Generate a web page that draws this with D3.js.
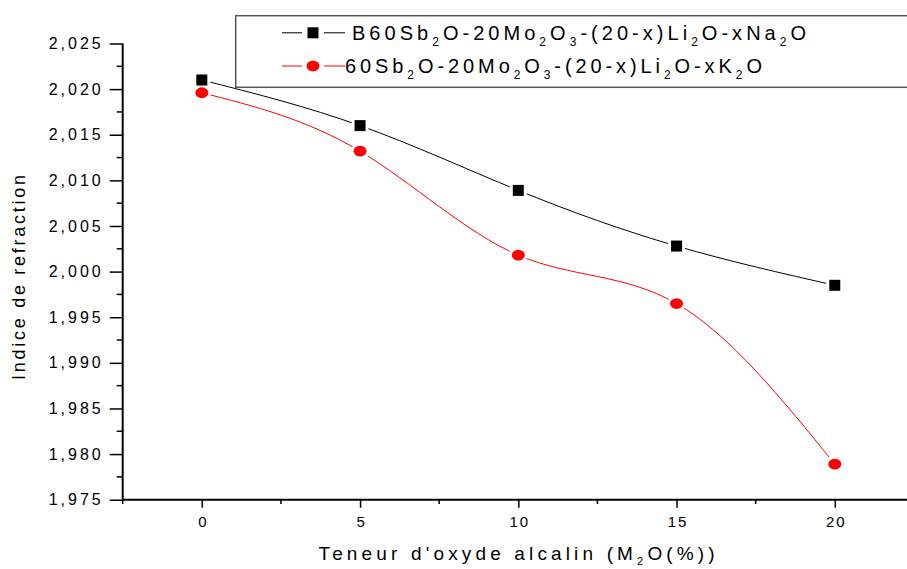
<!DOCTYPE html>
<html>
<head>
<meta charset="utf-8">
<script src="https://cdn.jsdelivr.net/npm/d3@7"></script>
<style>
  html, body { margin: 0; padding: 0; background: #fff; }
  svg { display: block; font-family: "Liberation Sans", Arial, sans-serif; }
</style>
</head>
<body>
<svg id="chart" width="907" height="569"></svg>
<script>
// Alkali oxide content (mol %)
const alkaliContent = [0, 5, 10, 15, 20];
// Refractive index, Na2O substitution series
const naIndex = [2.0210, 2.0160, 2.0089, 2.0028, 1.9985];
// Refractive index, K2O substitution series
const kIndex = [2.0196, 2.0132, 2.0018, 1.9965, 1.9789];

const yTickValues = [1.975, 1.980, 1.985, 1.990, 1.995, 2.000, 2.005, 2.010, 2.015, 2.020, 2.025];
const yMinorValues = [1.9775, 1.9825, 1.9875, 1.9925, 1.9975, 2.0025, 2.0075, 2.0125, 2.0175, 2.0225];
const xTickValues = [0, 5, 10, 15, 20];
const xMinorValues = [-2.5, 2.5, 7.5, 12.5, 17.5, 22.5];

// "_" marks the following character as a subscript
const seriesNames = ["B60Sb_2O-20Mo_2O_3-(20-x)Li_2O-xNa_2O", "60Sb_2O-20Mo_2O_3-(20-x)Li_2O-xK_2O"];
const xTitle = "Teneur d'oxyde alcalin (M_2O(%))";
const yTitle = "Indice de refraction";

const svg = d3.select("#chart");
const x = d3.scaleLinear().domain([-2.5, 22.5]).range([122.7, 913.9]);
const y = d3.scaleLinear().domain([1.975, 2.025]).range([499.7, 43.5]);

const commaFormat = v => d3.format(".3f")(v).replace(".", ",");

function addRich(sel, str, subSize, subShift) {
  const parts = [];
  let buf = "";
  for (let i = 0; i < str.length; i++) {
    if (str[i] === "_" && i + 1 < str.length) {
      if (buf) parts.push({ t: buf, sub: false });
      parts.push({ t: str[i + 1], sub: true });
      buf = ""; i++;
    } else buf += str[i];
  }
  if (buf) parts.push({ t: buf, sub: false });
  let shifted = false;
  parts.forEach(p => {
    const ts = sel.append("tspan").text(p.t);
    if (p.sub) { ts.attr("font-size", subSize).attr("dy", shifted ? 0 : subShift); shifted = true; }
    else if (shifted) { ts.attr("dy", -subShift); shifted = false; }
  });
  return sel;
}

function fitWidth(sel, width) {
  const node = sel.node();
  const n = node.textContent.length;
  const w = node.getComputedTextLength();
  sel.attr("letter-spacing", ((width - w) / (n - 1)).toFixed(2));
}

// Curves
const line = d3.line().x((d, i) => x(alkaliContent[i])).y(d => y(d)).curve(d3.curveNatural);
svg.append("path").attr("d", line(naIndex)).attr("fill", "none").attr("stroke", "#000").attr("stroke-width", 1);
svg.append("path").attr("d", line(kIndex)).attr("fill", "none").attr("stroke", "#ff0000").attr("stroke-width", 1);

// White halos give the small gap between curve and symbol
[naIndex, kIndex].forEach(s => {
  svg.append("g").selectAll("circle").data(s).join("circle")
    .attr("cx", (d, i) => x(alkaliContent[i])).attr("cy", d => y(d)).attr("r", 9).attr("fill", "#fff");
});

svg.append("g").selectAll("rect").data(naIndex).join("rect")
  .attr("x", (d, i) => x(alkaliContent[i]) - 5.5).attr("y", d => y(d) - 5.5)
  .attr("width", 11).attr("height", 11).attr("fill", "#000");
svg.append("g").selectAll("ellipse").data(kIndex).join("ellipse")
  .attr("cx", (d, i) => x(alkaliContent[i])).attr("cy", d => y(d))
  .attr("rx", 6.5).attr("ry", 5.4).attr("fill", "#ff0000");

// Y axis
const yAxis = svg.append("g").attr("transform", "translate(122.7,0)")
  .call(d3.axisLeft(y).tickValues(yTickValues).tickFormat(commaFormat).tickSize(13).tickPadding(6));
yAxis.select(".domain").attr("stroke-width", 2).attr("d", `M0,${y(2.025)}V${y(1.975)}`);
yAxis.selectAll(".tick line").attr("stroke-width", 1.5);
yAxis.selectAll(".tick text").attr("font-size", 16).attr("letter-spacing", 3).attr("fill", "#000")
  .attr("font-family", "'Liberation Sans', Arial, sans-serif");
svg.append("g").selectAll("line").data(yMinorValues).join("line")
  .attr("x1", 116.7).attr("x2", 122.7).attr("y1", d => y(d)).attr("y2", d => y(d))
  .attr("stroke", "#000").attr("stroke-width", 1.5);

// X axis
const xAxis = svg.append("g").attr("transform", "translate(0,499.7)")
  .call(d3.axisBottom(x).tickValues(xTickValues).tickFormat(d3.format("d")).tickSize(8).tickPadding(9));
xAxis.select(".domain").attr("stroke-width", 2).attr("d", `M${x(-2.5)},0H907`);
xAxis.selectAll(".tick line").attr("stroke-width", 1.5);
xAxis.selectAll(".tick text").attr("font-size", 15).attr("letter-spacing", 2).attr("fill", "#000")
  .attr("dx", 1).attr("font-family", "'Liberation Sans', Arial, sans-serif");
svg.append("g").selectAll("line").data(xMinorValues).join("line")
  .attr("x1", d => x(d)).attr("x2", d => x(d)).attr("y1", 499.7).attr("y2", 504)
  .attr("stroke", "#000").attr("stroke-width", 1.5);

// Axis titles
const xt = svg.append("text").attr("x", 318.5).attr("y", 560).attr("font-size", 19).attr("fill", "#000");
addRich(xt, xTitle, 11, 5);
fitWidth(xt, 396);

const yt = svg.append("text").attr("transform", "translate(25,380) rotate(-90)")
  .attr("font-size", 18).attr("fill", "#000").text(yTitle);
fitWidth(yt, 205);

// Legend
svg.append("rect").attr("x", 235.7).attr("y", 15.7).attr("width", 700).attr("height", 71.6)
  .attr("fill", "#fff").attr("stroke", "#555").attr("stroke-width", 1.5);

const legendRows = [
  { y: 32.8, color: "#000", square: true, textX: 352, textW: 454 },
  { y: 66, color: "#ff0000", square: false, textX: 345, textW: 417 }
];
legendRows.forEach((r, i) => {
  const g = svg.append("g");
  g.append("line").attr("x1", 282).attr("x2", 302).attr("y1", r.y).attr("y2", r.y).attr("stroke", r.color).attr("stroke-width", 1);
  g.append("line").attr("x1", 324).attr("x2", 345).attr("y1", r.y).attr("y2", r.y).attr("stroke", r.color).attr("stroke-width", 1);
  if (r.square) {
    g.append("rect").attr("x", 307.5).attr("y", r.y - 5.5).attr("width", 11).attr("height", 11).attr("fill", r.color);
  } else {
    g.append("ellipse").attr("cx", 313).attr("cy", r.y).attr("rx", 6.5).attr("ry", 5.4).attr("fill", r.color);
  }
  const t = g.append("text").attr("x", r.textX).attr("y", r.y + 7.2).attr("font-size", 20).attr("fill", "#000");
  addRich(t, seriesNames[i], 12, 6);
  fitWidth(t, r.textW);
});
</script>
</body>
</html>
